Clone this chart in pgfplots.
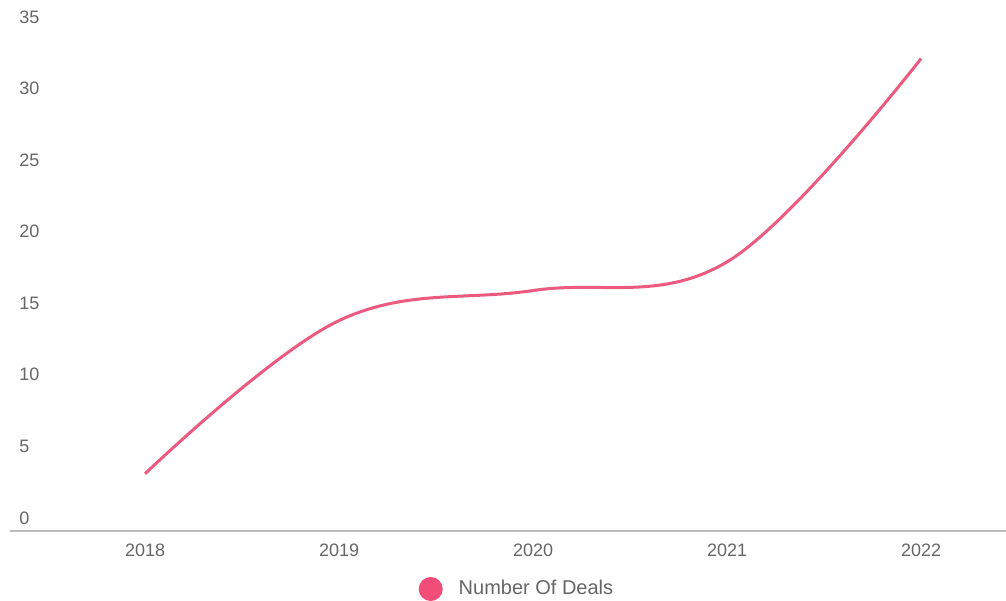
\documentclass[border=0pt]{standalone}
\usepackage{pgfplots}
\pgfplotsset{compat=1.18}
\usepackage{fontspec}
\setmainfont{Liberation Sans}
\definecolor{linepink}{HTML}{EC5A80}
\definecolor{dotpink}{HTML}{F24C78}
\definecolor{txtgray}{HTML}{666666}
\definecolor{axgray}{HTML}{BDBDBD}
\begin{document}
\begin{tikzpicture}
\useasboundingbox (-5pt,-34.5pt) rectangle (498pt,265.5pt);
\begin{axis}[
  at={(0,0)}, anchor=origin,
  scale only axis,
  width=498pt, height=250.5pt,
  xmin=2017.304, xmax=2022.438,
  ymin=0, ymax=35,
  axis line style={draw=none},
  xtick={2018,2019,2020,2021,2022},
  ytick={0,5,10,15,20,25,30,35},
  xticklabels={2018,2019,2020,2021,2022},
  xtick pos=bottom, ytick pos=left,
  tick style={draw=none},
  /pgf/number format/assume math mode=true,
  ticklabel style={font=\fontsize{9}{10}\selectfont, text=txtgray, inner sep=0pt},
  yticklabel style={anchor=south west, xshift=4.5pt, yshift=3.2pt},
  xticklabel style={anchor=north, yshift=-6.5pt},
  clip=false,
  legend style={at={(0.51,0)}, anchor=center, yshift=-29pt, draw=none, fill=none,
    font=\fontsize{10}{12}\selectfont, text=txtgray, inner sep=0pt},
  legend cell align=left,
  legend image code/.code={\fill[dotpink] (0.25em,0) circle (5.25pt);},
]
\draw[axgray, line width=0.6pt] (rel axis cs:0,0) -- (rel axis cs:1,0);
\addplot[linepink, line width=1.5pt, smooth, tension=0.62] coordinates {
  (2018,4.0) (2019,14.7) (2020,16.8) (2021,18.8) (2022,33.0)
};
\addlegendentry{\hspace{6pt}Number Of Deals}
\end{axis}
\end{tikzpicture}
\end{document}
